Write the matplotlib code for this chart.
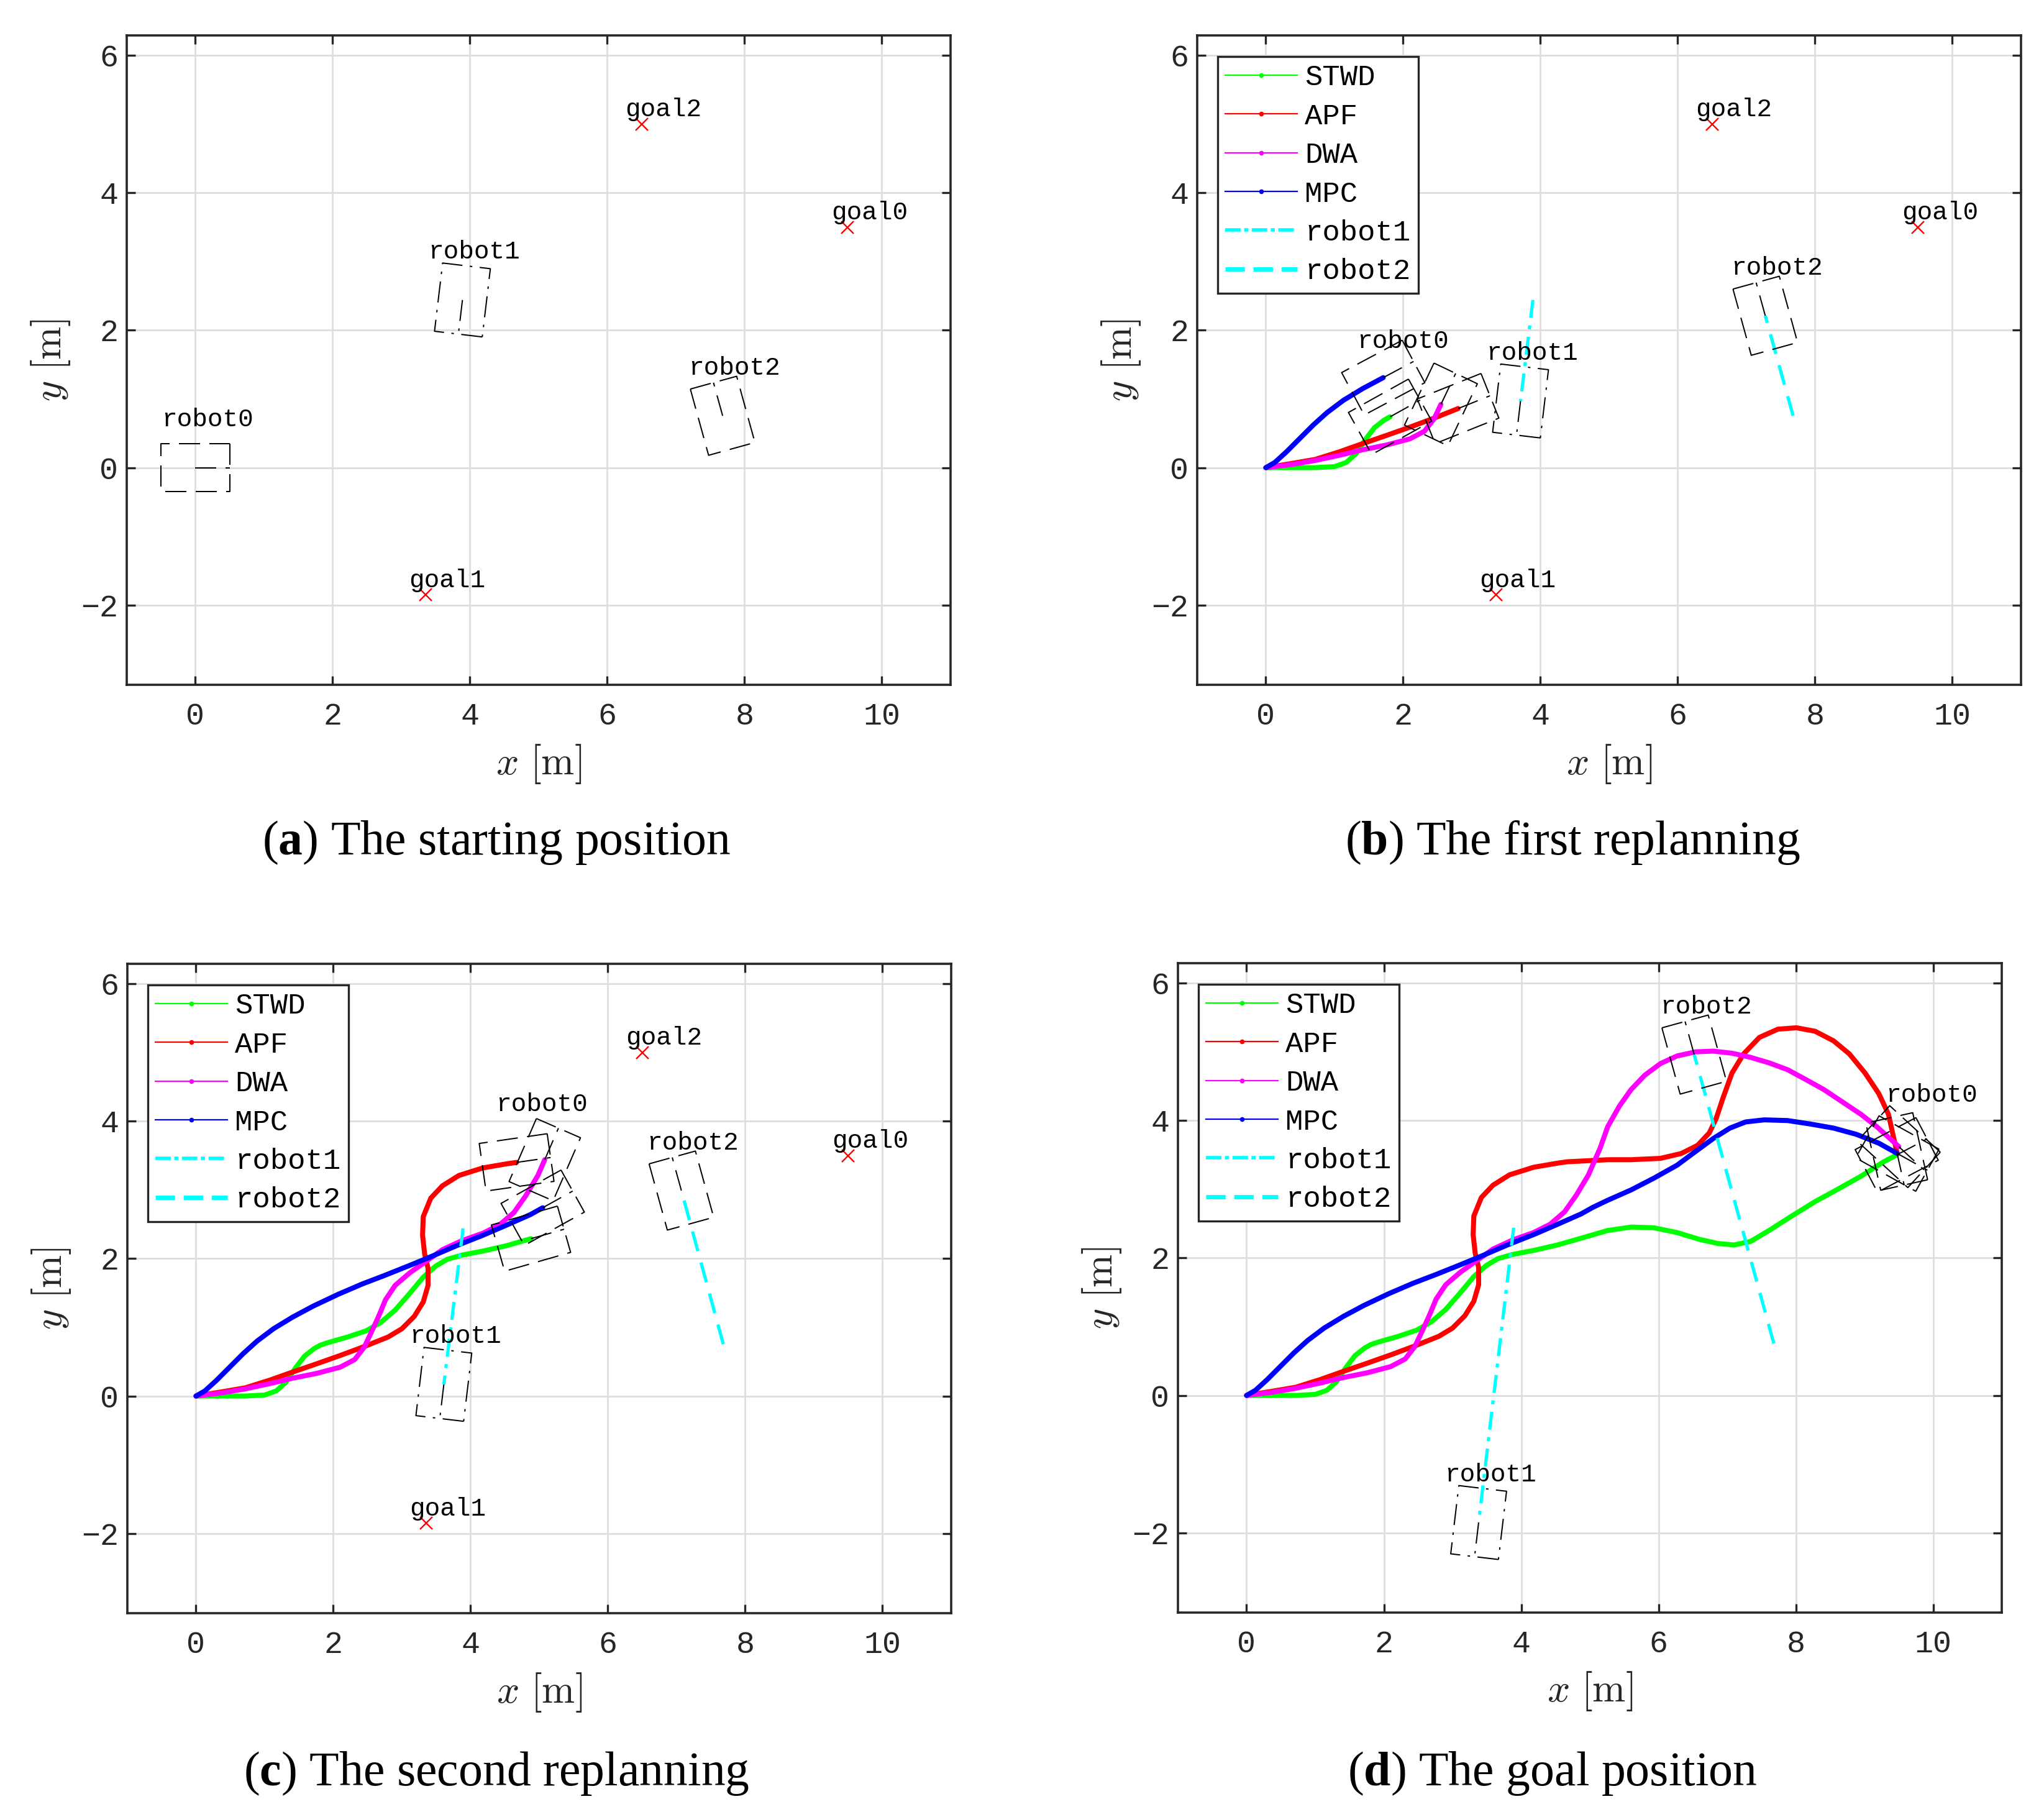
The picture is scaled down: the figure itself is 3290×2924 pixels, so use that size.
import numpy as np
import matplotlib
matplotlib.use('Agg')
import matplotlib.pyplot as plt
from matplotlib.lines import Line2D
from matplotlib.font_manager import FontProperties

plt.rcParams['mathtext.fontset'] = 'custom'
plt.rcParams['mathtext.rm'] = 'Liberation Serif'
plt.rcParams['mathtext.bf'] = 'Liberation Serif:bold'

W, H, DPI = 3291, 2924, 100

# goals of the three robots
goal_names = ['goal0', 'goal1', 'goal2']
goal_x = [9.5, 3.35, 6.5]
goal_y = [3.5, -1.85, 5.0]

# robot1 / robot2 centre in panels a, b, c, d
robot1_x = [3.89, 3.71, 3.61, 3.38]
robot1_y = [2.44, 0.97, 0.17, -1.85]
robot2_x = [7.68, 7.275, 7.07, 6.52]
robot2_y = [0.755, 2.21, 2.99, 4.96]

# robot0 trajectories
stwd_x = [0, 0.37, 0.72, 1.0, 1.17, 1.31, 1.45, 1.58, 1.72, 1.81, 1.93, 2.21, 2.48, 2.69, 2.9,
          3.11, 3.31, 3.49, 3.66, 3.87, 4.18, 4.53, 4.88, 5.26, 5.6, 5.93, 6.27, 6.6, 6.87, 7.1,
          7.34, 7.61, 7.94, 8.28, 8.61, 8.95, 9.28, 9.47]
stwd_y = [0, 0, 0, 0.015, 0.075, 0.2, 0.41, 0.58, 0.69, 0.74, 0.78, 0.86, 0.95, 1.07, 1.25,
          1.49, 1.73, 1.89, 1.99, 2.05, 2.11, 2.19, 2.29, 2.40, 2.45, 2.44, 2.37, 2.27, 2.21, 2.19,
          2.24, 2.40, 2.61, 2.82, 3.0, 3.19, 3.40, 3.50]

apf_x = [0, 0.37, 0.72, 1.07, 1.41, 1.76, 2.1, 2.45, 2.8, 3.0, 3.18, 3.31, 3.38, 3.38, 3.33,
         3.3, 3.31, 3.42, 3.59, 3.83, 4.18, 4.53, 4.67, 4.87, 5.26, 5.6, 6.03, 6.33, 6.57, 6.74,
         6.84, 6.94, 7.07, 7.24, 7.47, 7.74, 8.01, 8.28, 8.55, 8.78, 9.01, 9.21, 9.35, 9.43, 9.47]
apf_y = [0, 0.06, 0.12, 0.23, 0.35, 0.47, 0.59, 0.72, 0.86, 0.98, 1.16, 1.37, 1.61, 1.86, 2.07,
         2.34, 2.61, 2.88, 3.06, 3.21, 3.32, 3.38, 3.40, 3.41, 3.43, 3.43, 3.45, 3.52, 3.64, 3.82,
         4.03, 4.33, 4.69, 4.97, 5.21, 5.33, 5.35, 5.30, 5.16, 4.97, 4.69, 4.39, 4.09, 3.73, 3.55]

dwa_x = [0, 0.37, 0.72, 1.07, 1.41, 1.76, 2.1, 2.31, 2.45, 2.55, 2.66, 2.76, 2.9, 3.11, 3.35,
         3.59, 3.87, 4.18, 4.42, 4.63, 4.8, 4.98, 5.08, 5.15, 5.26, 5.43, 5.6, 5.8, 6.03, 6.27,
         6.54, 6.8, 7.07, 7.34, 7.61, 7.88, 8.14, 8.41, 8.68, 8.95, 9.18, 9.38, 9.5]
dwa_y = [0, 0.045, 0.105, 0.18, 0.26, 0.33, 0.42, 0.53, 0.71, 0.92, 1.16, 1.4, 1.61, 1.79, 1.96,
         2.13, 2.26, 2.37, 2.49, 2.67, 2.91, 3.21, 3.44, 3.6, 3.91, 4.21, 4.45, 4.66, 4.83, 4.94,
         5.0, 5.01, 4.98, 4.92, 4.84, 4.74, 4.6, 4.45, 4.27, 4.09, 3.91, 3.73, 3.62]

mpc_x = [0, 0.13, 0.3, 0.48, 0.69, 0.89, 1.13, 1.41, 1.71, 2.07, 2.42, 2.76, 3.11, 3.45, 3.8,
         4.18, 4.53, 4.87, 5.05, 5.26, 5.6, 5.93, 6.27, 6.54, 6.8, 7.04, 7.27, 7.54, 7.88, 8.21,
         8.55, 8.88, 9.21, 9.48]
mpc_y = [0, 0.075, 0.23, 0.41, 0.62, 0.8, 0.98, 1.15, 1.31, 1.48, 1.63, 1.76, 1.9, 2.04, 2.19,
         2.34, 2.49, 2.64, 2.74, 2.84, 2.99, 3.16, 3.35, 3.55, 3.74, 3.89, 3.98, 4.01, 4.0, 3.95,
         3.89, 3.8, 3.67, 3.52]

algos = ['STWD', 'APF', 'DWA', 'MPC']
algo_colors = ['#00ff00', '#ff0000', '#ff00ff', '#0000ff']
paths = [(stwd_x, stwd_y), (apf_x, apf_y), (dwa_x, dwa_y), (mpc_x, mpc_y)]

# where each algorithm's robot0 is in panels b and c (STWD, APF, DWA, MPC)
end_b = [(1.81, 0.74), (2.78, 0.875), (2.63, 0.98), (1.71, 1.25)]
end_c = [(4.88, 2.29), (4.67, 3.42), (5.08, 3.48), (5.05, 2.74)]

robot0_label_x = [-0.49, 1.33, 4.37, 9.31]
robot0_label_y = [0.60, 1.745, 4.15, 4.27]

letters = ['a', 'b', 'c', 'd']
captions = ['The starting position', 'The first replanning',
            'The second replanning', 'The goal position']

# axes boxes in pixels: left, top
ax_px = [(204, 57), (1927, 57), (205, 1551), (1896, 1550)]
AXW, AXH = 1326, 1045
cap_px = [(799, 1375), (2531, 1375), (799, 2873), (2499, 2873)]

mono = 'Liberation Mono'
dark = '#262626'
box_ls = (0, (17, 7.5))
box1_ls = (0, (17, 6, 2, 6))


def draw_box(ax, cx, cy, th, ls):
    c, s = np.cos(th), np.sin(th)
    lx = np.array([0.5, 0.5, -0.5, -0.5, 0.5])
    ly = np.array([0.35, -0.35, -0.35, 0.35, 0.35])
    xs = cx + lx * c - ly * s
    ys = cy + lx * s + ly * c
    ax.plot(xs, ys, color='k', lw=1.44, linestyle=ls, zorder=6)
    ax.plot([cx, cx + 0.5 * c], [cy, cy + 0.5 * s], color='k', lw=1.44, linestyle=ls, zorder=6)


def cut_index(px, py, pt):
    d = (np.array(px) - pt[0]) ** 2 + (np.array(py) - pt[1]) ** 2
    return int(np.argmin(d))


th1 = np.arctan2(robot1_y[-1] - robot1_y[0], robot1_x[-1] - robot1_x[0])
th2 = np.arctan2(robot2_y[-1] - robot2_y[0], robot2_x[-1] - robot2_x[0])

fig = plt.figure(figsize=(W / DPI, H / DPI), dpi=DPI)

for k in range(4):
    left, top = ax_px[k]
    ax = fig.add_axes([left / W, 1 - (top + AXH) / H, AXW / W, AXH / H])
    ax.set_xlim(-1, 11)
    ax.set_ylim(-3.16, 6.29)
    ax.set_xticks([0, 2, 4, 6, 8, 10])
    ax.set_yticks([-2, 0, 2, 4, 6])
    ax.grid(True, color='#dedede', lw=2.0)
    ax.set_axisbelow(True)
    for sp in ax.spines.values():
        sp.set_linewidth(2.6)
        sp.set_color(dark)
    ax.tick_params(direction='in', length=10, width=2.4, color=dark, top=True, right=True,
                   labelsize=36, labelcolor=dark)
    ax.tick_params(axis='x', pad=20)
    ax.tick_params(axis='y', pad=10)
    for lab in ax.get_xticklabels() + ax.get_yticklabels():
        lab.set_fontfamily(mono)

    ax.set_xlabel(r'$x\ [\mathrm{m}]$', fontsize=46, math_fontfamily='cm', va='center', color=dark)
    ax.xaxis.set_label_coords(0.5, -127 / AXH)
    ax.set_ylabel(r'$y\ [\mathrm{m}]$', fontsize=46, math_fontfamily='cm', va='center', color=dark)
    ax.yaxis.set_label_coords(-122 / AXW, 0.5)

    # robot0
    if k == 0:
        draw_box(ax, 0, 0, 0.0, box_ls)
    else:
        ends = [None, end_b, end_c, None][k]
        for i, (px, py) in enumerate(paths):
            n = len(px) - 1 if k == 3 else cut_index(px, py, ends[i])
            ax.plot(px[:n + 1], py[:n + 1], color=algo_colors[i], lw=5.8,
                    solid_capstyle='round', solid_joinstyle='round', zorder=3)
        for i, (px, py) in enumerate(paths):
            n = len(px) - 1 if k == 3 else cut_index(px, py, ends[i])
            th = np.arctan2(py[n] - py[n - 1], px[n] - px[n - 1])
            draw_box(ax, px[n], py[n], th, box_ls)

    # robot1 and robot2
    if k > 0:
        ax.plot([robot1_x[0], robot1_x[k]], [robot1_y[0], robot1_y[k]], color='#00ffff', lw=3.8,
                linestyle=(0, (5.5, 2.3, 1.2, 2.3)), zorder=5)
        ax.plot([robot2_x[0], robot2_x[k]], [robot2_y[0], robot2_y[k]], color='#00ffff', lw=3.8,
                linestyle=(0, (6.2, 3.6)), zorder=5)
    draw_box(ax, robot1_x[k], robot1_y[k], th1, box1_ls)
    draw_box(ax, robot2_x[k], robot2_y[k], th2, box_ls)

    # goals (not shown once the robots have arrived)
    if k < 3:
        ax.plot(goal_x, goal_y, 'x', color='#ff0000', ms=14, mew=1.7, zorder=7)
        for name, gx, gy in zip(goal_names, goal_x, goal_y):
            ax.text(gx - 0.24, gy + 0.11, name, fontsize=29.5, family=mono, va='baseline', zorder=8)

    ax.text(robot0_label_x[k], robot0_label_y[k], 'robot0', fontsize=29.5, family=mono,
            va='baseline', zorder=8)
    ax.text(robot1_x[k] - 0.5, robot1_y[k] + 0.6, 'robot1', fontsize=29.5, family=mono,
            va='baseline', zorder=8)
    ax.text(robot2_x[k] - 0.5, robot2_y[k] + 0.6, 'robot2', fontsize=29.5, family=mono,
            va='baseline', zorder=8)

    if k > 0:
        handles = [Line2D([], [], color=c, lw=1.6, marker='.', ms=9) for c in algo_colors]
        handles.append(Line2D([], [], color='#00ffff', lw=4.0, linestyle=(0, (4.5, 1.0, 1.2, 1.0))))
        handles.append(Line2D([], [], color='#00ffff', lw=5.0, linestyle=(0, (4.5, 2.0))))
        leg = ax.legend(handles, algos + ['robot1', 'robot2'], loc='upper left',
                        bbox_to_anchor=(33 / AXW, 1 - 34 / AXH), borderaxespad=0,
                        fancybox=False, framealpha=1, edgecolor=dark,
                        prop=FontProperties(family=mono, size=34),
                        handlelength=2.45, handletextpad=0.26, labelspacing=0.39,
                        borderpad=0.26)
        leg.get_frame().set_linewidth(2.4)
        leg.set_zorder(10)

    cx, cy = cap_px[k]
    fig.text(cx / W, 1 - cy / H, r'($\mathbf{' + letters[k] + r'}$) ' + captions[k],
             ha='center', va='baseline', fontsize=56, family='Liberation Serif',
             math_fontfamily='custom')

fig.savefig('out.png', dpi=DPI, facecolor='white')
